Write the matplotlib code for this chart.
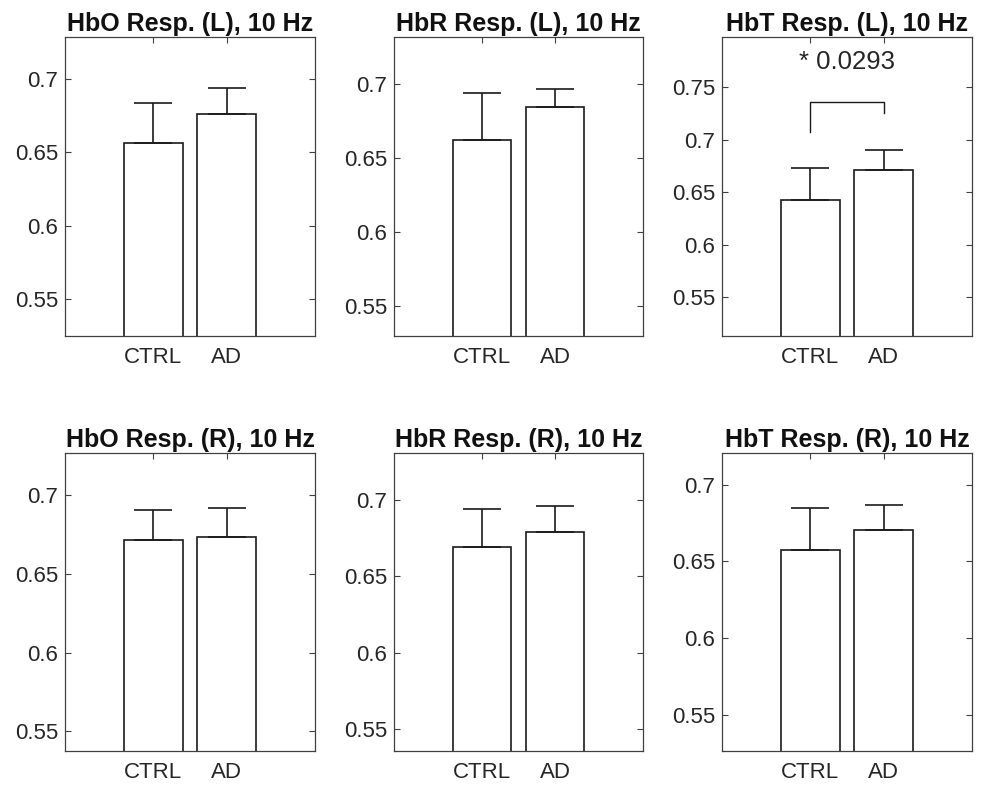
import matplotlib
matplotlib.use("Agg")
import matplotlib.pyplot as plt

plt.rcParams['font.family'] = ['Liberation Sans', 'DejaVu Sans']

groups = ['CTRL', 'AD']
titles = ['HbO Resp. (L), 10 Hz', 'HbR Resp. (L), 10 Hz', 'HbT Resp. (L), 10 Hz',
          'HbO Resp. (R), 10 Hz', 'HbR Resp. (R), 10 Hz', 'HbT Resp. (R), 10 Hz']
ctrl_mean = [0.6566, 0.6617, 0.6424, 0.6711, 0.6689, 0.6576]
ctrl_err = [0.0268, 0.0320, 0.0311, 0.0196, 0.0252, 0.0273]
ad_mean = [0.6759, 0.6845, 0.6716, 0.6734, 0.6789, 0.6702]
ad_err = [0.0180, 0.0119, 0.0189, 0.0184, 0.0169, 0.0164]
ylims = [(0.525, 0.7286), (0.5295, 0.7315), (0.5131, 0.7979),
         (0.5375, 0.7266), (0.5359, 0.7304), (0.5264, 0.7206)]
yticks = [[0.55, 0.6, 0.65, 0.7], [0.55, 0.6, 0.65, 0.7],
          [0.55, 0.6, 0.65, 0.7, 0.75], [0.55, 0.6, 0.65, 0.7],
          [0.55, 0.6, 0.65, 0.7], [0.55, 0.6, 0.65, 0.7]]
ytick_labels = {0.55: '0.55', 0.6: '0.6', 0.65: '0.65', 0.7: '0.7', 0.75: '0.75'}

# significance bracket in panel 3
sig_text = '* 0.0293'
sig_bar_y = 0.7363
sig_legs = (0.7073, 0.7252)
sig_text_y = 0.7744

W, H = 989, 788
fig = plt.figure(figsize=(W / 100, H / 100), dpi=100)

col_px = [(65, 315), (394, 643), (722, 972)]
row_px = [(37, 336), (453, 751)]
dark = '#262626'

for i in range(6):
    r, c = divmod(i, 3)
    x0, x1 = col_px[c]
    y0, y1 = row_px[r]
    ax = fig.add_axes([x0 / W, 1 - y1 / H, (x1 - x0) / W, (y1 - y0) / H])
    xs = [1, 2]
    means = [ctrl_mean[i], ad_mean[i]]
    errs = [ctrl_err[i], ad_err[i]]
    ax.bar(xs, means, width=0.8, color='white', edgecolor='#1a1a1a', linewidth=1.2, zorder=2)
    ax.errorbar(xs, means, yerr=[[0, 0], errs], fmt='none', ecolor='#1a1a1a',
                elinewidth=1.2, capsize=13.5, capthick=1.2, zorder=3)
    ax.set_xlim(-0.2, 3.2)
    ax.set_ylim(*ylims[i])
    ax.set_xticks(xs)
    ax.set_xticklabels(groups)
    ax.set_yticks(yticks[i])
    ax.set_yticklabels([ytick_labels[v] for v in yticks[i]])
    ax.tick_params(direction='in', length=4, width=0.8, colors='#404040',
                   labelcolor=dark, labelsize=16, top=True, right=True)
    ax.tick_params(axis='y', pad=5)
    ax.tick_params(axis='x', pad=8)
    for s in ax.spines.values():
        s.set_color('#404040')
        s.set_linewidth(0.9)
    ax.set_title(titles[i], fontsize=18, fontweight='bold', color='#111111', pad=4)

    if i == 2:
        ax.plot([1, 1, 2, 2], [sig_legs[0], sig_bar_y, sig_bar_y, sig_legs[1]],
                color='#1a1a1a', linewidth=1.0, zorder=3)
        ax.text(1.5, sig_text_y, sig_text, ha='center', va='center',
                fontsize=18.5, color=dark)

fig.savefig('out.png', dpi=100)
